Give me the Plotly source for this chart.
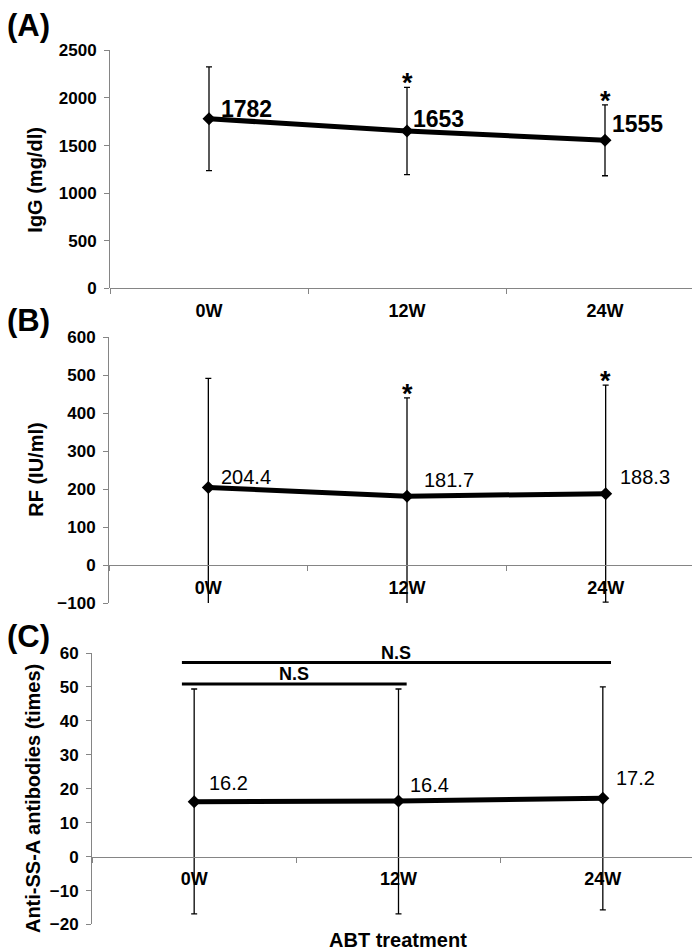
import plotly.graph_objects as go

# ---------------- data ----------------
weeks = ["0W", "12W", "24W"]

igg_mean = [1782, 1653, 1555]
igg_err = [545, 458, 372]
igg_star = [False, True, True]

rf_mean = [204.4, 181.7, 188.3]
rf_err_plus = [288, 259, 286]
rf_err_minus = [320, 300, 286]
rf_star = [False, True, True]

ssa_mean = [16.2, 16.4, 17.2]
ssa_err_plus = [33.2, 33.0, 32.8]
ssa_err_minus = [33.1, 33.3, 32.9]

# significance brackets in panel C: (start index, end index, level, text)
ns_start = [-0.06, -0.06]
ns_end = [2.04, 1.04]
ns_level = [57.2, 50.9]
ns_text = ["N.S", "N.S"]

igg_ticks = [0, 500, 1000, 1500, 2000, 2500]
rf_ticks = [-100, 0, 100, 200, 300, 400, 500, 600]
ssa_ticks = [-20, -10, 0, 10, 20, 30, 40, 50, 60]

# ---------------- layout helpers ----------------
W, H = 700, 950
FONT = "Liberation Sans, Arial, sans-serif"
AXC = "#858585"


def px_x(p):
    return p / W


def px_y(p):
    return 1 - p / H


panels = [
    dict(xd=[px_x(102), px_x(696)], yd=[px_y(277), px_y(34)], yr=[0, 2500]),
    dict(xd=[px_x(101), px_x(697)], yd=[px_y(598), px_y(327)], yr=[-100, 600]),
    dict(xd=[px_x(84), px_x(697)], yd=[px_y(926), px_y(649)], yr=[-20, 60]),
]
ticksets = [igg_ticks, rf_ticks, ssa_ticks]

fig = go.Figure()

series = [
    (igg_mean, igg_err, igg_err),
    (rf_mean, rf_err_plus, rf_err_minus),
    (ssa_mean, ssa_err_plus, ssa_err_minus),
]

for i, (m, ep, em) in enumerate(series):
    sfx = "" if i == 0 else str(i + 1)
    fig.add_trace(go.Scatter(
        x=weeks, y=m, mode="lines+markers",
        line=dict(color="black", width=5),
        marker=dict(symbol="diamond", size=10, color="black"),
        error_y=dict(type="data", symmetric=False, array=ep, arrayminus=em,
                     color="black", thickness=1.3, width=3),
        xaxis="x" + sfx, yaxis="y" + sfx, showlegend=False,
        hoverinfo="skip",
    ))

for i, p in enumerate(panels):
    sfx = "" if i == 0 else str(i + 1)
    y0, y1 = p["yr"]
    d0, d1 = p["yd"]
    zero_pos = d0 + (0 - y0) / (y1 - y0) * (d1 - d0)
    fig.update_layout(**{
        "xaxis" + sfx: dict(
            domain=p["xd"], type="category", range=[-0.5, 2.5],
            anchor="free", position=zero_pos,
            showline=True, linecolor=AXC, linewidth=1,
            ticks="outside", tickson="boundaries", ticklen=5, tickcolor=AXC,
            showgrid=False, zeroline=False, ticklabelstandoff=6,
            tickfont=dict(family=FONT, size=18, color="black", weight="bold"),
            fixedrange=True,
        ),
        "yaxis" + sfx: dict(
            domain=p["yd"], range=p["yr"], anchor="x" + sfx,
            tickvals=ticksets[i],
            showline=True, linecolor=AXC, linewidth=1,
            ticks="outside", ticklen=5, tickcolor=AXC,
            showgrid=False, zeroline=False, ticklabelstandoff=4,
            tickfont=dict(family=FONT, size=17, color="black", weight="bold"),
            fixedrange=True,
        ),
    })

ann = []

# data labels
lab_cfg = [
    (igg_mean, "x", "y", [10, 4, 5], [10, 12, 16], 23, "bold", lambda v: f"{v:d}"),
    (rf_mean, "x2", "y2", [11, 15, 12], [11, 16, 17], 20, "normal", lambda v: f"{v:.1f}"),
    (ssa_mean, "x3", "y3", [13, 9, 11], [19, 16, 20], 20, "normal", lambda v: f"{v:.1f}"),
]
for vals, xr, yr, xs, ys, fs, fw, fmt in lab_cfg:
    for k, v in enumerate(vals):
        ann.append(dict(
            x=weeks[k], y=v, xref=xr, yref=yr, text=fmt(v), showarrow=False,
            xanchor="left", yanchor="middle", xshift=xs[k], yshift=ys[k],
            font=dict(family=FONT, size=fs, color="black", weight=fw),
        ))

# asterisks
for vals, errs, stars, xr, yr in [
    (igg_mean, igg_err, igg_star, "x", "y"),
    (rf_mean, rf_err_plus, rf_star, "x2", "y2"),
]:
    for k, v in enumerate(vals):
        if stars[k]:
            ann.append(dict(
                x=weeks[k], y=v + errs[k], xref=xr, yref=yr, text="*",
                showarrow=False, xanchor="center", yanchor="middle", yshift=4,
                font=dict(family=FONT, size=27, color="black", weight="bold"),
            ))

# N.S brackets
shapes = []
for a, b, lv, t in zip(ns_start, ns_end, ns_level, ns_text):
    shapes.append(dict(type="line", xref="x3", yref="y3", x0=a, x1=b, y0=lv, y1=lv,
                       line=dict(color="black", width=3)))
    ann.append(dict(
        x=(a + b) / 2, y=lv, xref="x3", yref="y3", text=t, showarrow=False,
        xanchor="center", yanchor="middle", yshift=10,
        font=dict(family=FONT, size=18, color="black", weight="bold"),
    ))

# axis titles
for txt, yc, xc in [("IgG (mg/dl)", 166, 27), ("RF (IU/ml)", 462, 28),
                    ("Anti-SS-A antibodies (times)", 798, 25)]:
    ann.append(dict(
        x=px_x(xc), y=px_y(yc), xref="paper", yref="paper", text=txt,
        showarrow=False, textangle=-90, xanchor="center", yanchor="middle",
        font=dict(family=FONT, size=20, color="black", weight="bold"),
    ))

ann.append(dict(
    x=px_x(390), y=px_y(942), xref="paper", yref="paper", text="ABT treatment",
    showarrow=False, xanchor="center", yanchor="middle",
    font=dict(family=FONT, size=20, color="black", weight="bold"),
))

# panel letters
for txt, base in [("(A)", 29), ("(B)", 330), ("(C)", 652)]:
    ann.append(dict(
        x=px_x(-3), y=px_y(base), xref="paper", yref="paper", text=txt,
        showarrow=False, xanchor="left", yanchor="bottom",
        font=dict(family=FONT, size=31, color="black", weight="bold"),
    ))

fig.update_layout(
    width=W, height=H, margin=dict(l=0, r=0, t=0, b=0),
    paper_bgcolor="white", plot_bgcolor="white",
    annotations=ann, shapes=shapes, showlegend=False,
)

fig.write_html("out.html")
